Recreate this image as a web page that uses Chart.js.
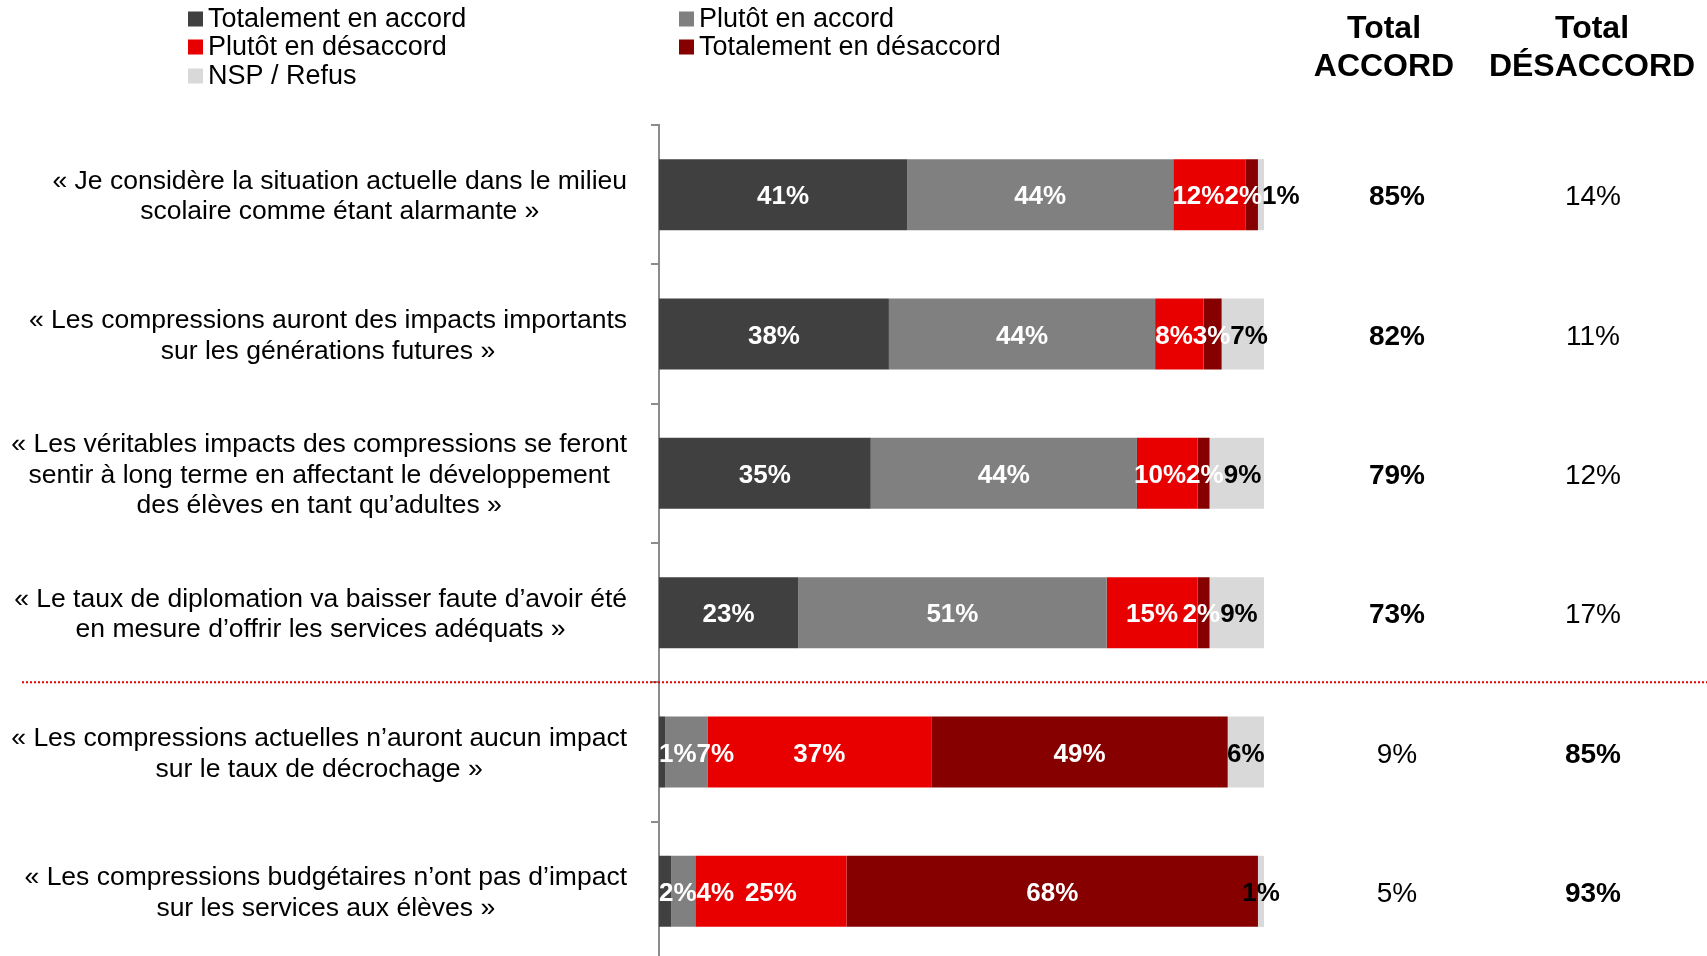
<!DOCTYPE html>
<html lang="fr">
<head>
    <meta charset="UTF-8">
    <title>Compressions budgétaires</title>
    <script src="https://cdn.jsdelivr.net/npm/chart.js"></script>
    <style>
        html, body { margin: 0; padding: 0; background: #fff; overflow: hidden; }
        body { font-family: 'Liberation Sans', Arial, sans-serif; }
        #wrap { width: 1707px; height: 956px; position: relative; overflow: hidden; }
    </style>
</head>
<body>
    <div id="wrap"><canvas id="chart" width="1707" height="961"></canvas></div>

    <script>
        // categories (one statement per row, split into lines)
        const statements = [
            ['« Je considère la situation actuelle dans le milieu', 'scolaire comme étant alarmante »'],
            ['« Les compressions auront des impacts importants', 'sur les générations futures »'],
            ['« Les véritables impacts des compressions se feront', 'sentir à long terme en affectant le développement', 'des élèves en tant qu\u2019adultes »'],
            ['« Le taux de diplomation va baisser faute d\u2019avoir été', 'en mesure d\u2019offrir les services adéquats »'],
            ['« Les compressions actuelles n\u2019auront aucun impact', 'sur le taux de décrochage »'],
            ['« Les compressions budgétaires n\u2019ont pas d\u2019impact', 'sur les services aux élèves »']
        ];

        // series (%)
        const totalementAccord    = [41, 38, 35, 23, 1, 2];
        const plutotAccord        = [44, 44, 44, 51, 7, 4];
        const plutotDesaccord     = [12, 8, 10, 15, 37, 25];
        const totalementDesaccord = [2, 3, 2, 2, 49, 68];
        const nspRefus            = [1, 7, 9, 9, 6, 1];

        // right-hand columns
        const totalAccord    = [85, 82, 79, 73, 9, 5];
        const totalDesaccord = [14, 11, 12, 17, 85, 93];

        const FONT = "'Liberation Sans', Arial, sans-serif";

        function ds(label, data, color, textColor) {
            return { label, data, backgroundColor: color, textColor, borderWidth: 0, barPercentage: 0.51, categoryPercentage: 1 };
        }

        // push overlapping labels apart, keeping each group centred on its bars
        function placeLabels(items, minX) {
            const stack = [];
            items.forEach(it => {
                let cl = { items: [it], w: it.w, n: 1, sumT: it.c - it.w / 2 };
                cl.L = Math.max(minX, cl.sumT);
                while (stack.length && stack[stack.length - 1].L + stack[stack.length - 1].w > cl.L) {
                    const a = stack.pop();
                    const m = { items: a.items.concat(cl.items), w: a.w + cl.w, n: a.n + cl.n, sumT: a.sumT + cl.sumT - a.w * cl.n };
                    m.L = Math.max(minX, m.sumT / m.n);
                    cl = m;
                }
                stack.push(cl);
            });
            stack.forEach(cl => {
                let x = cl.L;
                cl.items.forEach(it => { it.left = x; x += it.w; });
            });
        }

        const overlay = {
            id: 'overlay',
            afterDatasetsDraw(chart) {
                const ctx = chart.ctx;
                const y = chart.scales.y;
                const area = chart.chartArea;
                ctx.save();

                // value labels inside the bars
                ctx.font = 'bold 26px ' + FONT;
                ctx.textBaseline = 'middle';
                ctx.textAlign = 'left';
                for (let i = 0; i < statements.length; i++) {
                    const items = chart.data.datasets.map((d, di) => {
                        const bar = chart.getDatasetMeta(di).data[i];
                        const txt = d.data[i] + '%';
                        return { txt, color: d.textColor, y: bar.y, c: (bar.x + bar.base) / 2, w: ctx.measureText(txt).width };
                    });
                    placeLabels(items, area.left);
                    items.forEach(it => {
                        ctx.fillStyle = it.color;
                        ctx.fillText(it.txt, it.left, it.y + 2.5);
                    });
                }

                // statements on the left
                ctx.fillStyle = '#000';
                ctx.font = '26.5px ' + FONT;
                const lh = 30.5;
                statements.forEach((lines, i) => {
                    const cy = y.getPixelForValue(i) + 2;
                    const widest = Math.max(...lines.map(l => ctx.measureText(l).width));
                    const cx = 627 - widest / 2;
                    ctx.textAlign = 'center';
                    lines.forEach((l, k) => {
                        ctx.fillText(l, cx, cy + (k - (lines.length - 1) / 2) * lh);
                    });
                });

                // totals
                statements.forEach((_, i) => {
                    const cy = y.getPixelForValue(i) + 3;
                    const agree = i < 4;
                    ctx.textAlign = 'center';
                    ctx.font = (agree ? 'bold ' : '') + '28px ' + FONT;
                    ctx.fillText(totalAccord[i] + '%', 1397, cy);
                    ctx.font = (agree ? '' : 'bold ') + '28px ' + FONT;
                    ctx.fillText(totalDesaccord[i] + '%', 1593, cy);
                });

                // column headers
                ctx.font = 'bold 32px ' + FONT;
                ctx.fillText('Total', 1384, 29);
                ctx.fillText('ACCORD', 1384, 67);
                ctx.fillText('Total', 1592, 29);
                ctx.fillText('DÉSACCORD', 1592, 67);

                // legend
                const spots = [[188, 19], [679, 19], [188, 47], [679, 47], [188, 76]];
                ctx.font = '27px ' + FONT;
                ctx.textAlign = 'left';
                chart.data.datasets.forEach((d, di) => {
                    const [lx, ly] = spots[di];
                    ctx.fillStyle = d.backgroundColor;
                    ctx.fillRect(lx, ly - 7.5, 15, 15);
                    ctx.fillStyle = '#000';
                    ctx.fillText(d.label, lx + 20, ly + 1);
                });

                // separator between positive and negative statements
                const sepY = (y.getPixelForValue(3) + y.getPixelForValue(4)) / 2;
                ctx.strokeStyle = '#e60000';
                ctx.lineWidth = 2;
                ctx.setLineDash([2, 2]);
                ctx.beginPath();
                ctx.moveTo(22, sepY);
                ctx.lineTo(1707, sepY);
                ctx.stroke();

                ctx.restore();
            }
        };

        new Chart(document.getElementById('chart'), {
            type: 'bar',
            data: {
                labels: statements,
                datasets: [
                    ds('Totalement en accord', totalementAccord, '#404040', '#fff'),
                    ds('Plutôt en accord', plutotAccord, '#808080', '#fff'),
                    ds('Plutôt en désaccord', plutotDesaccord, '#e80000', '#fff'),
                    ds('Totalement en désaccord', totalementDesaccord, '#860000', '#fff'),
                    ds('NSP / Refus', nspRefus, '#d9d9d9', '#000')
                ]
            },
            options: {
                indexAxis: 'y',
                responsive: false,
                animation: false,
                layout: { padding: { left: 651, right: 443, top: 125, bottom: 0 } },
                plugins: { legend: { display: false }, tooltip: { enabled: false } },
                scales: {
                    x: { stacked: true, min: 0, max: 100, display: false },
                    y: {
                        stacked: true,
                        ticks: { display: false },
                        grid: { drawOnChartArea: false, drawTicks: true, tickLength: 8, offset: true, color: '#8c8c8c', lineWidth: 2 },
                        border: { display: true, color: '#8c8c8c', width: 2 }
                    }
                }
            },
            plugins: [overlay]
        });
    </script>
</body>
</html>
